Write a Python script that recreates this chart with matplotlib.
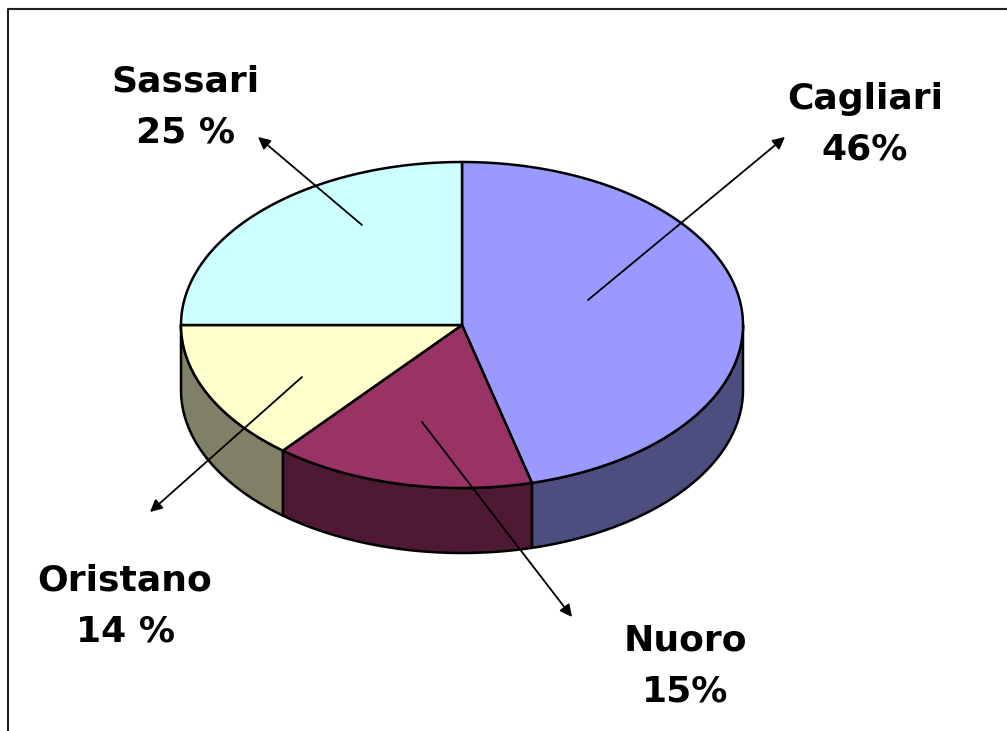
import numpy as np
import matplotlib
matplotlib.use("Agg")
import matplotlib.pyplot as plt
from matplotlib.patches import Polygon

# 데이터
labels = ["Cagliari", "Nuoro", "Oristano", "Sassari"]
values = [46, 15, 14, 25]
label_texts = ["Cagliari\n46%", "Nuoro\n15%", "Oristano\n14 %", "Sassari\n25 %"]
top_colors = ["#9999FF", "#993366", "#FFFFCC", "#CCFFFF"]
side_colors = ["#4D4D80", "#4D1933", "#808066", "#668080"]

# 3D 파이 형태 (픽셀 좌표)
cx, cy = 462, 325
a, b = 281, 163
depth = 65

# 라벨 위치, 화살표 (시작점 -> 화살촉)
text_pos = [(865, 124), (685, 666), (125, 606), (185, 107)]
arrow_from = [(588, 300), (422, 422), (302, 377), (362, 225)]
arrow_to = [(785, 137), (572, 617), (150, 512), (258, 137)]


def ellipse_pts(t0, t1, dy=0, n=200):
    t = np.radians(np.linspace(t0, t1, n))
    return np.column_stack([cx + a * np.sin(t), cy - b * np.cos(t) + dy])


fig = plt.figure(figsize=(10.07, 7.31), dpi=100)
ax = fig.add_axes([0, 0, 1, 1])
ax.set_xlim(0, 1007)
ax.set_ylim(731, 0)
ax.axis("off")

# 테두리 (왼쪽, 위쪽)
ax.plot([8, 8, 1007], [731, 9, 9], color="#222222", lw=1.5)

frac = np.array(values) / sum(values) * 360
starts = np.concatenate([[0], np.cumsum(frac)[:-1]])
ends = starts + frac

# 옆면 (앞쪽 90~270도만 보임)
for s, e, c in zip(starts, ends, side_colors):
    s2, e2 = max(s, 90), min(e, 270)
    if e2 <= s2:
        continue
    top = ellipse_pts(s2, e2)
    bot = ellipse_pts(s2, e2, dy=depth)[::-1]
    ax.add_patch(Polygon(np.vstack([top, bot]), closed=True, facecolor=c,
                         edgecolor="black", lw=1.8, joinstyle="round"))

# 윗면
for s, e, c in zip(starts, ends, top_colors):
    pts = np.vstack([[cx, cy], ellipse_pts(s, e)])
    ax.add_patch(Polygon(pts, closed=True, facecolor=c, edgecolor="black",
                         lw=1.8, joinstyle="round"))

# 라벨 + 화살표
for txt, pos, p0, p1 in zip(label_texts, text_pos, arrow_from, arrow_to):
    ax.annotate("", xy=p1, xytext=p0,
                arrowprops=dict(arrowstyle="-|>", color="black", lw=1.3,
                                mutation_scale=18, shrinkA=0, shrinkB=0))
    ax.text(pos[0], pos[1], txt, ha="center", va="center", fontsize=26,
            fontweight="bold", family="DejaVu Sans", linespacing=1.6)

plt.savefig("out.png", dpi=100)
plt.close()
